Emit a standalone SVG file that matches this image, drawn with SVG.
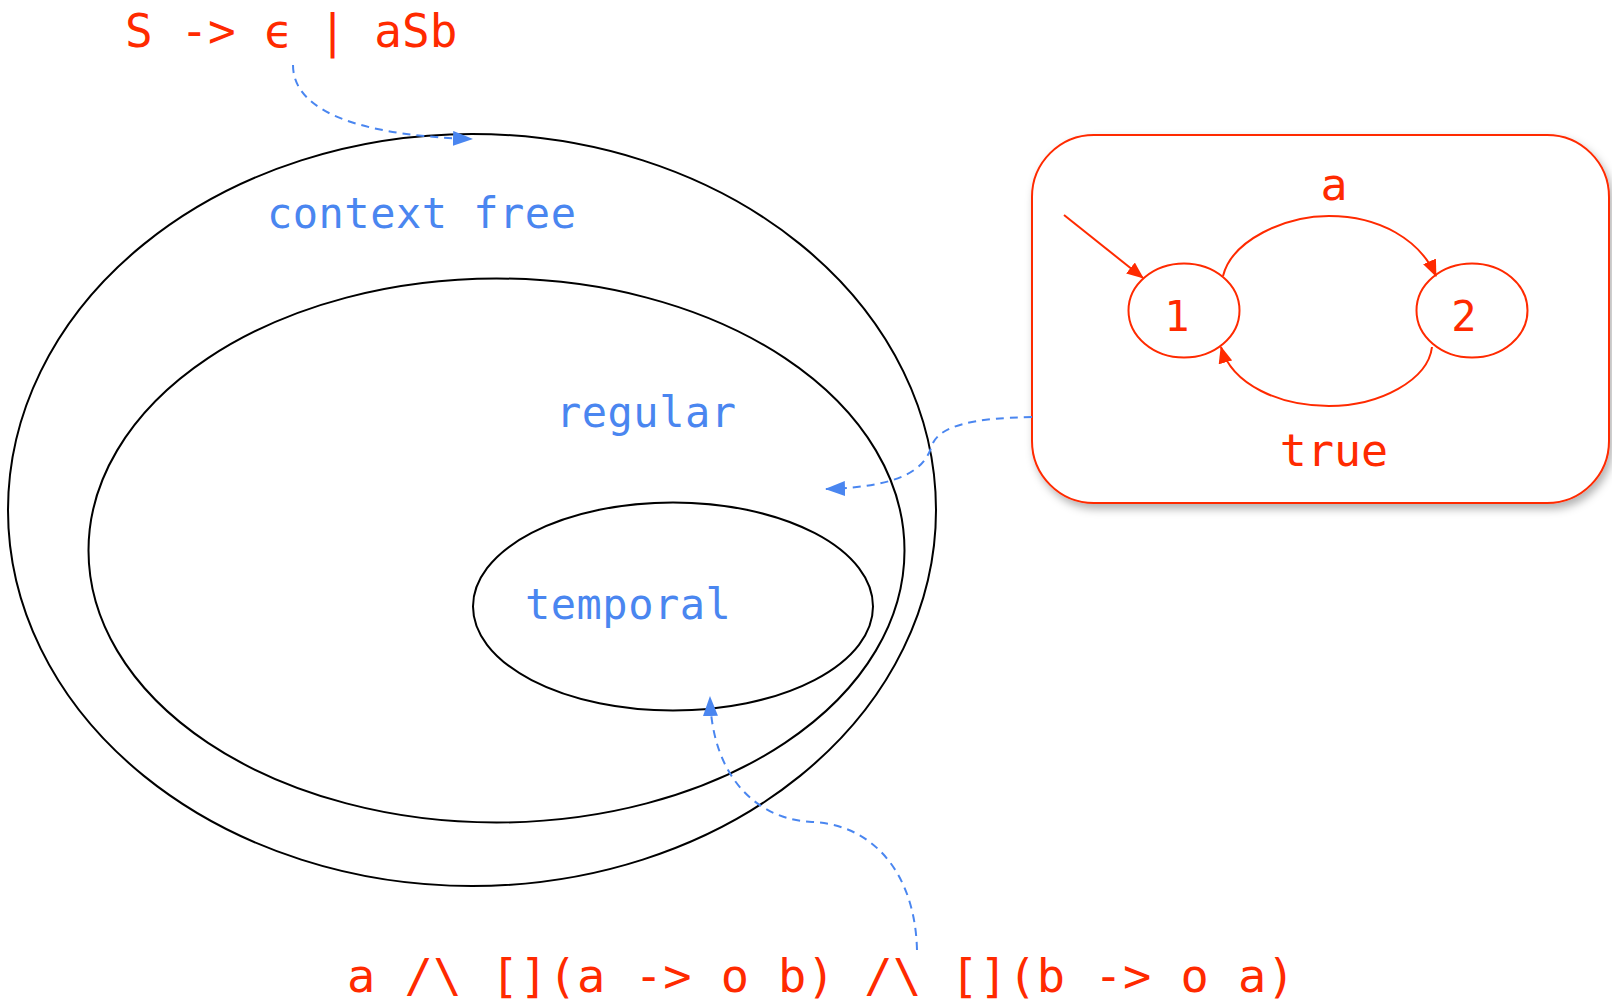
<svg xmlns="http://www.w3.org/2000/svg" width="1612" height="1000" viewBox="0 0 1612 1000">
<style>
.red{fill:#FF2A00;font-family:"DejaVu Sans Mono","Liberation Mono",monospace;}
.blue{fill:#4A86F0;font-family:"DejaVu Sans Mono","Liberation Mono",monospace;font-size:42px;letter-spacing:0.5px;}
.set{fill:none;stroke:#000;stroke-width:2;}
.st{fill:none;stroke:#FF2A00;stroke-width:2;}
.dash{fill:none;stroke:#4A86F0;stroke-width:2;stroke-dasharray:8 6;}
</style>
<defs>
<marker id="ab" viewBox="0 0 20 15" refX="19" refY="7.5" markerWidth="20" markerHeight="15" markerUnits="userSpaceOnUse" orient="auto"><path d="M0,0 L20,7.5 L0,15 z" fill="#4A86F0"/></marker>
<marker id="ar" viewBox="0 0 17 14" refX="16" refY="7" markerWidth="17" markerHeight="14" markerUnits="userSpaceOnUse" orient="auto"><path d="M0,0 L17,7 L0,14 z" fill="#FF2A00"/></marker>
<filter id="sh" x="-10%" y="-10%" width="125%" height="130%"><feDropShadow dx="3" dy="5" stdDeviation="4" flood-color="#000" flood-opacity="0.3"/></filter>
</defs>
<rect width="1612" height="1000" fill="#fff"/>
<g id="context-free"><ellipse class="set" cx="472" cy="510" rx="464" ry="376"/><text class="blue" x="267" y="228">context free</text></g>
<g id="regular"><ellipse class="set" cx="496.5" cy="550.5" rx="408" ry="272"/><text class="blue" x="556" y="427">regular</text></g>
<g id="temporal"><ellipse class="set" cx="673" cy="606.5" rx="200" ry="104"/><text class="blue" x="525" y="619">temporal</text></g>
<g id="grammar"><text class="red" x="125" y="47" font-size="46">S -&gt; ϵ | aSb</text></g>
<g id="formula"><text class="red" x="347" y="992" font-size="47" textLength="948" lengthAdjust="spacing">a /\ [](a -&gt; o b) /\ [](b -&gt; o a)</text></g>
<g id="automaton">
<rect x="1032" y="135" width="577" height="368" rx="62" ry="62" fill="#fff" stroke="#FF2A00" stroke-width="2" filter="url(#sh)"/>
<g id="state1"><ellipse class="st" cx="1184" cy="310.5" rx="55.5" ry="47"/><text class="red" x="1177" y="331" font-size="42" text-anchor="middle">1</text></g>
<g id="state2"><ellipse class="st" cx="1472" cy="310.5" rx="55.5" ry="47"/><text class="red" x="1464" y="331" font-size="42" text-anchor="middle">2</text></g>
<text class="red" x="1334" y="200" font-size="45" text-anchor="middle">a</text>
<text class="red" x="1334" y="466" font-size="45" text-anchor="middle">true</text>
</g>
<g id="connectors">
<path class="st" d="M1064,215 L1143,278" marker-end="url(#ar)"/>
<path class="st" d="M1223,276 C1232,240 1285,216 1329,216 C1380,216 1420,240 1436,276" marker-end="url(#ar)"/>
<path class="st" d="M1432,347 C1428,380 1380,406 1329,406 C1280,406 1232,385 1221,347" marker-end="url(#ar)"/>
<path class="dash" d="M293,65 C293,115 370,136 472,139" marker-end="url(#ab)"/>
<path class="dash" d="M1032,417 C975,418 940,425 932,445 C925,470 900,487 826,489" marker-end="url(#ab)"/>
<path class="dash" d="M917,950 C915,870 870,824 812,822 C760,820 712,780 710,697" marker-end="url(#ab)"/>
</g>
</svg>
